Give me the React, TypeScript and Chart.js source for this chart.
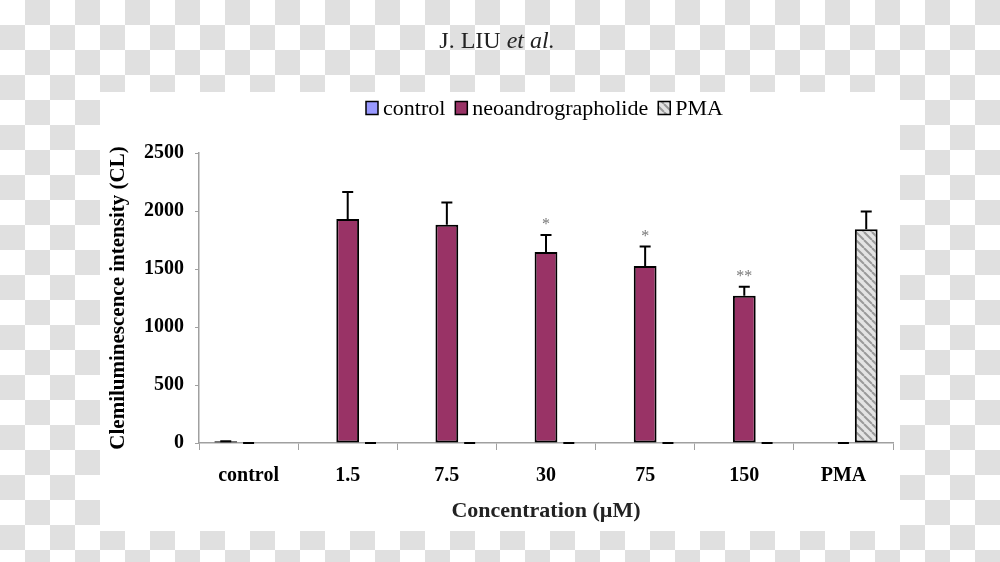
import React, { useEffect, useRef } from "react";
import { Chart, registerables } from "chart.js";

Chart.register(...registerables);

const categories = ["control", "1.5", "7.5", "30", "75", "150", "PMA"];
const seriesNames = ["control", "neoandrographolide", "PMA"];
const controlValues = [15, null, null, null, null, null, null];
const controlErrors = [0, null, null, null, null, null, null];
const neoValues = [0, 1930, 1881, 1647, 1526, 1270, 0];
const neoErrors = [0, 233, 192, 147, 167, 78, 0];
const pmaValues = [null, 0, 0, 0, 0, 0, 1843];
const pmaErrors = [null, 0, 0, 0, 0, 0, 152];
const significance = ["", "", "", "*", "*", "**", ""];
const yTicks = [0, 500, 1000, 1500, 2000, 2500];

const SERIF = "'Liberation Serif', 'Times New Roman', serif";

function makeHatch(): CanvasPattern | string {
  const c = document.createElement("canvas");
  c.width = 8;
  c.height = 8;
  const g = c.getContext("2d");
  if (!g) return "#ddd";
  g.fillStyle = "#e4e4e4";
  g.fillRect(0, 0, 8, 8);
  g.strokeStyle = "#9a9a9a";
  g.lineWidth = 2;
  for (const o of [-8, 0, 8]) {
    g.beginPath();
    g.moveTo(o, 0);
    g.lineTo(o + 8, 8);
    g.stroke();
  }
  const p = g.createPattern(c, "repeat");
  return p || "#ddd";
}

export default function App() {
  const ref = useRef<HTMLCanvasElement | null>(null);

  useEffect(() => {
    const canvas = ref.current;
    if (!canvas) return;
    const hatch = makeHatch();
    const errors = [controlErrors, neoErrors, pmaErrors];
    const fills: any[] = ["#9999FF", "#993366", hatch];

    const decor = {
      id: "decor",
      beforeDraw(chart: any) {
        const ctx = chart.ctx;
        ctx.save();
        for (let y = 0; y < 562; y += 25) {
          for (let x = 0; x < 1000; x += 25) {
            ctx.fillStyle = ((x / 25 + y / 25) % 2 === 1) ? "#e0e0e0" : "#ffffff";
            ctx.fillRect(x, y, 25, 25);
          }
        }
        ctx.fillStyle = "#ffffff";
        ctx.fillRect(100, 92, 800, 439);
        ctx.fillStyle = "#222";
        ctx.textBaseline = "middle";
        const f1 = `24px ${SERIF}`;
        const f2 = `italic 24px ${SERIF}`;
        ctx.font = f1;
        const t1 = "J. LIU ";
        const w1 = ctx.measureText(t1).width;
        ctx.font = f2;
        const t2 = "et al.";
        const w2 = ctx.measureText(t2).width;
        const sx = 497 - (w1 + w2) / 2;
        ctx.font = f1;
        ctx.textAlign = "left";
        ctx.fillText(t1, sx, 42);
        ctx.font = f2;
        ctx.fillText(t2, sx + w1, 42);
        ctx.font = `22px ${SERIF}`;
        let lx = 366;
        const ly = 108;
        seriesNames.forEach((name, i) => {
          ctx.fillStyle = fills[i];
          ctx.fillRect(lx, ly - 6.5, 12, 13);
          ctx.strokeStyle = "#000";
          ctx.lineWidth = 1.5;
          ctx.strokeRect(lx, ly - 6.5, 12, 13);
          ctx.fillStyle = "#000";
          ctx.fillText(name, lx + 17, ly + 1);
          lx += 17 + ctx.measureText(name).width + 10;
        });
        ctx.restore();
      },
      afterDatasetsDraw(chart: any) {
        const ctx = chart.ctx;
        const yScale = chart.scales.y;
        ctx.save();
        ctx.strokeStyle = "#000";
        ctx.lineWidth = 2;
        chart.data.datasets.forEach((ds: any, di: number) => {
          const meta = chart.getDatasetMeta(di);
          ds.data.forEach((v: number | null, j: number) => {
            const e = errors[di][j];
            if (v === null || e === null || e === undefined) return;
            const el = meta.data[j];
            const x = el.x;
            const yb = yScale.getPixelForValue(v);
            const yt = yScale.getPixelForValue(v + e);
            ctx.beginPath();
            ctx.moveTo(x, yb);
            ctx.lineTo(x, yt);
            ctx.moveTo(x - 5.5, yt);
            ctx.lineTo(x + 5.5, yt);
            ctx.stroke();
            if (di === 1 && significance[j]) {
              ctx.fillStyle = "#777";
              ctx.font = `16px ${SERIF}`;
              ctx.textAlign = "center";
              ctx.textBaseline = "middle";
              ctx.fillText(significance[j], x, yt - 10);
            }
          });
        });
        ctx.restore();
      },
    };

    const mk = (label: string, data: (number | null)[], fill: any) => ({
      label,
      data,
      backgroundColor: fill,
      borderColor: "#000",
      borderWidth: 2,
      borderSkipped: false,
      categoryPercentage: 0.69,
      barPercentage: 1,
    });

    const chart = new Chart(canvas, {
      type: "bar",
      data: {
        labels: categories,
        datasets: [
          mk(seriesNames[0], controlValues, fills[0]),
          mk(seriesNames[1], neoValues, fills[1]),
          mk(seriesNames[2], pmaValues, fills[2]),
        ] as any,
      },
      plugins: [decor],
      options: {
        animation: false,
        responsive: false,
        devicePixelRatio: 1,
        layout: { padding: { left: 0, top: 153, right: 107, bottom: 0 } },
        plugins: { legend: { display: false }, tooltip: { enabled: false }, title: { display: false } },
        scales: {
          x: {
            grid: { display: true, drawOnChartArea: false, offset: true, tickLength: 7, color: "#a0a0a0", lineWidth: 1 },
            border: { display: true, color: "#a0a0a0", width: 1.5 },
            ticks: { color: "#000", font: { family: SERIF, size: 20, weight: "bold" }, padding: 14, maxRotation: 0 },
            title: {
              display: true,
              text: "Concentration (µM)",
              color: "#222",
              font: { family: SERIF, size: 22, weight: "bold" },
              padding: { top: 0, bottom: 37 },
            },
            afterFit(scale: any) {
              scale.height = 119;
            },
          },
          y: {
            min: 0,
            max: 2500,
            afterBuildTicks(scale: any) {
              scale.ticks = yTicks.map((v) => ({ value: v }));
            },
            grid: { display: true, drawOnChartArea: false, tickLength: 4, color: "#a0a0a0", lineWidth: 1 },
            border: { display: true, color: "#a0a0a0", width: 1.5 },
            ticks: {
              color: "#000",
              font: { family: SERIF, size: 20, weight: "bold" },
              padding: 11,
              callback: (v: any) => String(v),
            },
            title: {
              display: true,
              text: "Clemiluminescence intensity (CL)",
              color: "#000",
              font: { family: SERIF, size: 21, weight: "bold" },
              padding: { top: 106, bottom: 0 },
            },
            afterFit(scale: any) {
              scale.width = 199;
            },
          },
        },
      } as any,
    });
    return () => chart.destroy();
  }, []);

  return (
    <div style={{ position: "absolute", left: 0, top: 0, width: 1000, height: 562 }}>
      <canvas ref={ref} width={1000} height={562} style={{ display: "block", width: 1000, height: 562 }} />
    </div>
  );
}
